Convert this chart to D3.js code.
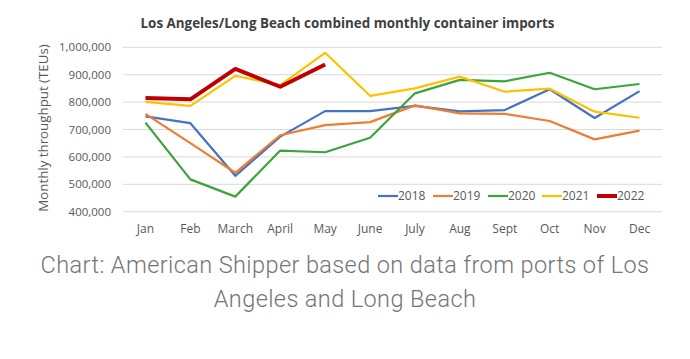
<!DOCTYPE html>
<html><head><meta charset="utf-8">
<script src="https://cdn.jsdelivr.net/npm/d3@7/dist/d3.min.js"></script>
<style>body{margin:0;background:#fff;}svg{display:block;}</style>
</head><body>
<svg id="chart" width="690" height="359"></svg>
<script>
const months = ["Jan","Feb","March","April","May","June","July","Aug","Sept","Oct","Nov","Dec"];
const years = ["2018","2019","2020","2021","2022"];
const v2018 = [748000,723000,531000,674000,767000,767000,786000,766000,771000,847000,742000,840000];
const v2019 = [757000,650000,542000,679000,716000,727000,788000,759000,757000,731000,664000,696000];
const v2020 = [725000,518000,455000,623000,617000,670000,832000,881000,876000,907000,847000,866000];
const v2021 = [801000,786000,896000,862000,980000,823000,850000,893000,838000,849000,765000,743000];
const v2022 = [815000,810000,921000,856000,937000];
const yTicks = [400000,500000,600000,700000,800000,900000,1000000];
const colors = ["#4472C4","#ED7D31","#3BA43B","#FFC000","#C00000"];
const widths = [2.2,2.2,2.2,2.2,4];
const series = [v2018,v2019,v2020,v2021,v2022];

const svg = d3.select("#chart");
const pL = 123, pR = 662, pT = 47.3, pB = 211.7;
const x = d3.scaleBand().domain(months).range([pL, pR]);
const y = d3.scaleLinear().domain([400000,1000000]).range([pB, pT]);
const font = "'Open Sans', sans-serif";

// gridlines
svg.append("g").selectAll("line").data(yTicks).join("line")
  .attr("x1", pL).attr("x2", pR)
  .attr("y1", d => y(d)).attr("y2", d => y(d))
  .attr("stroke", "#d9d9d9").attr("stroke-width", 1);

// y axis labels
const yAxis = d3.axisLeft(y).tickValues(yTicks).tickFormat(d3.format(",")).tickSize(0).tickPadding(12);
const ya = svg.append("g").attr("transform", `translate(${pL},0)`).call(yAxis);
ya.select(".domain").remove();
ya.selectAll("text").attr("font-family", font).attr("font-size", 11.5).attr("fill", "#595959");

// x axis labels
const xAxis = d3.axisBottom(x).tickSize(0).tickPadding(0);
const xa = svg.append("g").attr("transform", `translate(0,224.5)`).call(xAxis);
xa.select(".domain").remove();
xa.selectAll("text").attr("font-family", font).attr("font-size", 12).attr("fill", "#595959");

// lines
const line = d3.line().x((d, i) => x(months[i]) + x.bandwidth() / 2).y(d => y(d));
series.forEach((s, k) => {
  svg.append("path").datum(s).attr("d", line)
    .attr("fill", "none").attr("stroke", colors[k]).attr("stroke-width", widths[k])
    .attr("stroke-linejoin", "round");
});

// legend
const legX = [378, 433, 488, 542, 597];
years.forEach((yr, k) => {
  svg.append("line").attr("x1", legX[k]).attr("x2", legX[k] + 20)
    .attr("y1", 196).attr("y2", 196).attr("stroke", colors[k]).attr("stroke-width", widths[k]);
  svg.append("text").attr("x", legX[k] + 20).attr("y", 196).attr("dy", "0.35em")
    .attr("font-family", font).attr("font-size", 12).attr("fill", "#595959").text(yr);
});

// title
svg.append("text").attr("x", 347.5).attr("y", 27.7).attr("text-anchor", "middle")
  .attr("font-family", font).attr("font-weight", "bold").attr("font-size", 13.4).attr("fill", "#404040")
  .text("Los Angeles/Long Beach combined monthly container imports");

// y title
svg.append("text").attr("transform", "translate(43,128) rotate(-90)").attr("dy", "0.35em")
  .attr("text-anchor", "middle").attr("font-family", font).attr("font-size", 13.3).attr("fill", "#595959")
  .text("Monthly throughput (TEUs)");

// source footer
const foot = ["Chart: American Shipper based on data from ports of Los", "Angeles and Long Beach"];
foot.forEach((t, i) => {
  svg.append("text").attr("x", 345).attr("y", 273.3 + i * 33.3).attr("text-anchor", "middle")
    .attr("font-family", "Roboto, sans-serif").attr("font-weight", 300).attr("font-size", 23.5)
    .attr("letter-spacing", 0.4).attr("fill", "#757575")
    .text(t);
});
</script>
</body></html>
